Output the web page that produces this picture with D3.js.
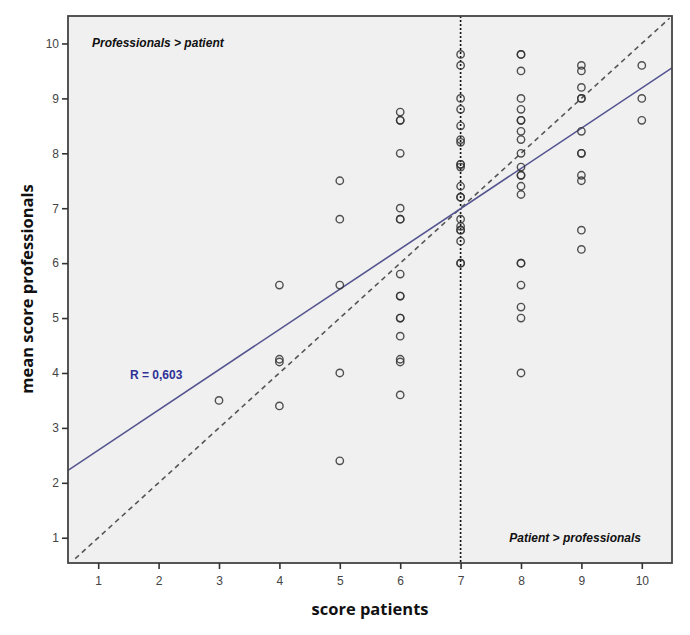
<!DOCTYPE html>
<html>
<head>
<meta charset="utf-8">
<script src="https://cdn.jsdelivr.net/npm/d3@7"></script>
<style>
  body { margin: 0; background: #fff; }
  svg { display: block; }
</style>
</head>
<body>
<svg></svg>
<script>
const [w, h] = [690, 635];
const [pLeft, pRight, pTop, pBottom] = [68, 672, 16, 563];

// patient score -> mean scores given by professionals
const patientScores = [3, 4, 5, 6, 7, 8, 9, 10];
const profScores = [
    [3.5],
    [5.6, 4.25, 4.2, 3.4],
    [7.5, 6.8, 5.6, 4.0, 2.4],
    [8.75, 8.6, 8.6, 8.0, 7.0, 6.8, 6.8, 5.8, 5.4, 5.4, 5.0, 5.0, 4.67, 4.25, 4.2, 3.6],
    [9.8, 9.6, 9.0, 8.8, 8.5, 8.25, 8.2, 7.8, 7.8, 7.75, 7.4, 7.2, 7.2, 6.8, 6.67, 6.6, 6.6, 6.4, 6.0, 6.0],
    [9.8, 9.8, 9.5, 9.0, 8.8, 8.6, 8.6, 8.4, 8.25, 8.0, 7.75, 7.6, 7.6, 7.4, 7.25, 6.0, 6.0, 5.6, 5.2, 5.0, 4.0],
    [9.6, 9.5, 9.2, 9.0, 9.0, 8.4, 8.0, 8.0, 7.6, 7.5, 6.6, 6.25],
    [9.6, 9.0, 8.6]
];
const xTicks = [1, 2, 3, 4, 5, 6, 7, 8, 9, 10];
const yTicks = [1, 2, 3, 4, 5, 6, 7, 8, 9, 10];
const fit = [1.86, 0.733];   // intercept, slope
const rLabel = 'R = 0,603';

const data = [];
patientScores.forEach((s, i) => profScores[i].forEach(v => data.push({x: s, y: v})));

const xScale = d3.scaleLinear().domain([0.5, 10.5]).range([pLeft, pRight]);
const yScale = d3.scaleLinear().domain([0.54, 10.5]).range([pBottom, pTop]);

const svg = d3.select('svg').attr('width', w).attr('height', h);

svg.append('rect')
    .attr('x', pLeft).attr('y', pTop)
    .attr('width', pRight - pLeft).attr('height', pBottom - pTop)
    .attr('fill', '#f0f0f0');

svg.append('defs').append('clipPath').attr('id', 'clip')
    .append('rect')
    .attr('x', pLeft).attr('y', pTop)
    .attr('width', pRight - pLeft).attr('height', pBottom - pTop);

const plot = svg.append('g').attr('clip-path', 'url(#clip)');

// diagonal y = x
plot.append('line')
    .attr('x1', xScale(0.62)).attr('y1', yScale(0.62))
    .attr('x2', xScale(10.46)).attr('y2', yScale(10.46))
    .attr('stroke', '#555').attr('stroke-width', 1.6)
    .attr('stroke-dasharray', '5,4');

// patient = 7
plot.append('line')
    .attr('x1', xScale(7)).attr('x2', xScale(7))
    .attr('y1', pTop).attr('y2', pBottom)
    .attr('stroke', '#111').attr('stroke-width', 1.6)
    .attr('stroke-dasharray', '2,2');

// regression line
plot.append('line')
    .attr('x1', xScale(0.5)).attr('y1', yScale(fit[0] + fit[1] * 0.5))
    .attr('x2', xScale(10.5)).attr('y2', yScale(fit[0] + fit[1] * 10.5))
    .attr('stroke', '#54548f').attr('stroke-width', 1.6);

plot.selectAll('circle')
    .data(data)
    .enter()
    .append('circle')
        .attr('cx', d => xScale(d.x))
        .attr('cy', d => yScale(d.y))
        .attr('r', 3.7)
        .attr('fill', 'none')
        .attr('stroke', '#333')
        .attr('stroke-opacity', 0.85)
        .attr('stroke-width', 1.4);

// frame
svg.append('rect')
    .attr('x', pLeft).attr('y', pTop)
    .attr('width', pRight - pLeft).attr('height', pBottom - pTop)
    .attr('fill', 'none')
    .attr('stroke', '#444').attr('stroke-width', 1.8);

const xAxis = d3.axisBottom(xScale).tickValues(xTicks).tickSize(6).tickSizeOuter(0);
const yAxis = d3.axisLeft(yScale).tickValues(yTicks).tickSize(6).tickSizeOuter(0);

const gx = svg.append('g')
    .attr('transform', `translate(0, ${pBottom})`)
    .call(xAxis);
const gy = svg.append('g')
    .attr('transform', `translate(${pLeft}, 0)`)
    .call(yAxis);

[gx, gy].forEach(g => {
    g.select('.domain').remove();
    g.selectAll('line').attr('stroke', '#333').attr('stroke-width', 1.6);
    g.selectAll('text')
        .attr('fill', '#444')
        .style('font-family', '"Liberation Sans", Arial, sans-serif')
        .style('font-size', '12px');
});
gx.selectAll('text').attr('dy', '1.05em');

svg.append('text')
    .attr('x', 370).attr('y', 615)
    .attr('text-anchor', 'middle')
    .style('font-family', '"Open Sans", sans-serif')
    .style('font-weight', 'bold')
    .style('font-size', '16.5px')
    .attr('fill', '#111')
    .text('score patients');

svg.append('text')
    .attr('transform', 'translate(33, 289) rotate(-90)')
    .attr('text-anchor', 'middle')
    .style('font-family', '"Open Sans", sans-serif')
    .style('font-weight', 'bold')
    .style('font-size', '16.5px')
    .attr('fill', '#111')
    .text('mean score professionals');

const note = (x, y, anchor, t) => svg.append('text')
    .attr('x', x).attr('y', y)
    .attr('text-anchor', anchor)
    .style('font-family', '"Liberation Sans", Arial, sans-serif')
    .style('font-weight', 'bold')
    .style('font-style', 'italic')
    .style('font-size', '12px')
    .attr('fill', '#111')
    .text(t);

note(92, 47, 'start', 'Professionals > patient');
note(641, 542, 'end', 'Patient > professionals');

svg.append('text')
    .attr('x', 130).attr('y', 379)
    .style('font-family', '"Liberation Sans", Arial, sans-serif')
    .style('font-weight', 'bold')
    .style('font-size', '12px')
    .attr('fill', '#2f2f96')
    .text(rLabel);
</script>
</body>
</html>
